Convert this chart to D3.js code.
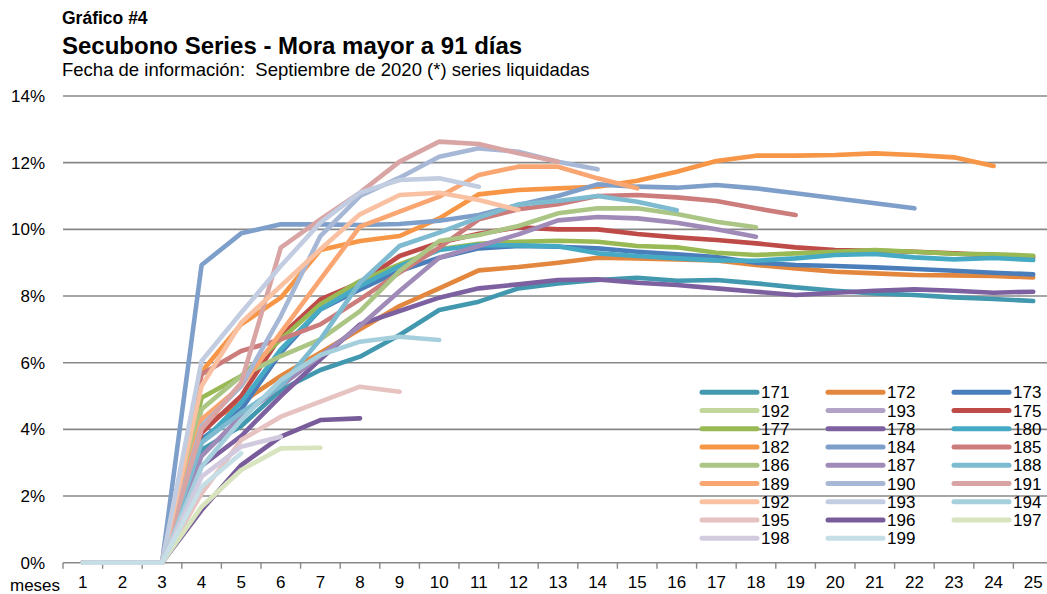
<!DOCTYPE html>
<html>
<head>
<meta charset="utf-8">
<script src="https://cdn.jsdelivr.net/npm/d3@7"></script>
<style>
  html, body { margin: 0; padding: 0; background: #fff; }
  svg { display: block; font-family: "Liberation Sans", Arial, sans-serif; }
</style>
</head>
<body>
<svg id="chart" width="1047" height="594"></svg>
<script>
// months on the x axis
const MONTHS = [1,2,3,4,5,6,7,8,9,10,11,12,13,14,15,16,17,18,19,20,21,22,23,24,25];
const Y_TICKS = [0, 0.02, 0.04, 0.06, 0.08, 0.10, 0.12, 0.14];

// legend labels, in the order the series are drawn (legend reads row by row)
const LABELS = ['171','172','173','192','193','175','177','178','180','182','184','185','186','187','188','189','190','191','192','193','194','195','196','197','198','199'];
const COLORS = ['#4198AF','#E3873E','#4A7EBB','#C3D69B','#B3A2C7','#BE4B48','#98B954','#7D60A0','#46AAC5','#F79646','#7F9FCB','#CB7C7B','#ABC684','#9F8AB8','#7FBBD0','#F9A672','#A6B8D6','#D8A5A4','#F9C1A2','#C3CDE2','#A6CFDD','#E6C2C1','#785C9A','#D7E4BD','#D2CADE','#C6DEE6'];

// mora > 91 días, % per month since issue
const s171 = [0,0,0,3.38,4.1,5.18,5.78,6.18,6.83,7.58,7.83,8.23,8.38,8.48,8.55,8.46,8.48,8.38,8.26,8.16,8.08,8.03,7.96,7.91,7.85];
const s172 = [0,0,0,4.1,4.8,5.6,6.3,7.0,7.7,8.23,8.77,8.87,9.0,9.15,9.13,9.1,9.07,8.93,8.83,8.73,8.68,8.63,8.62,8.6,8.56];
const s173 = [0,0,0,3.7,4.6,6.3,7.6,8.2,8.75,9.15,9.43,9.5,9.48,9.43,9.33,9.25,9.17,9.0,8.93,8.9,8.86,8.81,8.76,8.7,8.65];
const s192a = [];
const s193a = [];
const s175 = [0,0,0,3.9,5.0,6.8,7.9,8.4,9.2,9.6,9.87,10.06,10.0,10.0,9.86,9.76,9.68,9.58,9.46,9.38,9.36,9.33,9.28,9.22,9.16];
const s177 = [0,0,0,4.95,5.6,6.7,7.75,8.45,8.95,9.4,9.57,9.63,9.66,9.63,9.5,9.46,9.3,9.23,9.28,9.33,9.38,9.33,9.27,9.25,9.21];
const s178 = [0,0,0,2.9,3.8,5.0,6.1,7.15,7.55,7.95,8.23,8.35,8.48,8.5,8.4,8.33,8.23,8.13,8.03,8.1,8.16,8.2,8.16,8.1,8.13];
const s180 = [0,0,0,3.6,4.8,6.4,7.6,8.3,8.9,9.38,9.53,9.52,9.49,9.28,9.2,9.13,9.07,9.06,9.13,9.23,9.26,9.16,9.1,9.14,9.08];
const s182 = [0,0,0,5.73,7.15,7.95,9.38,9.65,9.8,10.33,11.05,11.18,11.23,11.28,11.46,11.73,12.05,12.21,12.21,12.23,12.28,12.23,12.16,11.9];
const s184 = [0,0,0,8.93,9.88,10.15,10.15,10.13,10.16,10.26,10.43,10.73,11.0,11.35,11.28,11.25,11.33,11.23,11.08,10.93,10.78,10.63];
const s185 = [0,0,0,5.65,6.35,6.7,7.15,7.9,8.7,9.45,10.3,10.6,10.75,11.0,11.03,10.96,10.85,10.63,10.43];
const s186 = [0,0,0,4.6,5.6,6.2,6.7,7.55,8.75,9.65,9.83,10.1,10.48,10.63,10.63,10.46,10.23,10.06];
const s187 = [0,0,0,3.2,4.4,5.3,6.2,7.1,8.15,9.15,9.5,9.85,10.27,10.37,10.33,10.2,10.0,9.78];
const s188 = [0,0,0,3.6,4.5,5.3,6.7,8.4,9.5,9.9,10.35,10.75,10.85,11.0,10.83,10.57];
const s189 = [0,0,0,4.3,5.3,6.9,8.5,10.08,10.53,10.98,11.63,11.88,11.88,11.53,11.23];
const s190 = [0,0,0,4.1,5.3,7.4,9.8,11.0,11.55,12.18,12.43,12.33,12.03,11.8];
const s191 = [0,0,0,4.0,5.4,9.45,10.3,11.1,12.03,12.63,12.56,12.28,12.03];
const s192 = [0,0,0,5.3,7.2,8.3,9.4,10.45,11.03,11.1,10.88,10.58];
const s193 = [0,0,0,6.05,7.5,8.9,10.2,11.1,11.48,11.53,11.28];
const s194 = [0,0,0,2.88,4.28,5.48,6.23,6.63,6.78,6.68];
const s195 = [0,0,0,2.08,3.68,4.38,4.83,5.28,5.13];
const s196 = [0,0,0,1.58,2.93,3.78,4.28,4.33];
const s197 = [0,0,0,1.68,2.78,3.43,3.45];
const s198 = [0,0,0,2.58,3.48,3.78];
const s199 = [0,0,0,2.28,3.28];

const VALUES = [s171,s172,s173,s192a,s193a,s175,s177,s178,s180,s182,s184,s185,s186,s187,s188,s189,s190,s191,s192,s193,s194,s195,s196,s197,s198,s199];

const series = LABELS.map((label, i) => ({
  label,
  color: COLORS[i],
  points: VALUES[i].map((v, j) => ({ m: MONTHS[j], v: v / 100 }))
}));

const svg = d3.select('#chart');
const FONT = 17;

// ---- scales ----
const x = d3.scaleBand().domain(MONTHS).range([63, 1053]).padding(0);
const y = d3.scaleLinear().domain([0, 0.14]).range([562.7, 96]);
const cx = m => x(m) + x.bandwidth() / 2;

// ---- titles ----
svg.append('text').attr('x', 62).attr('y', 24)
  .attr('font-size', 17.5).attr('font-weight', 'bold').text('Gráfico #4');
svg.append('text').attr('x', 62).attr('y', 54)
  .attr('font-size', 24).attr('font-weight', 'bold').text('Secubono Series - Mora mayor a 91 días');
svg.append('text').attr('x', 62).attr('y', 76)
  .attr('font-size', 18.5).text('Fecha de información:  Septiembre de 2020 (*) series liquidadas')
  .style('white-space', 'pre');

// ---- gridlines ----
svg.append('g')
  .selectAll('line')
  .data(Y_TICKS)
  .join('line')
  .attr('x1', x.range()[0]).attr('x2', x.range()[1])
  .attr('y1', d => y(d)).attr('y2', d => y(d))
  .attr('stroke', '#888')
  .attr('stroke-width', 1.6);

// ---- y axis labels ----
const yAxis = svg.append('g')
  .attr('transform', `translate(${x.range()[0]},0)`)
  .call(d3.axisLeft(y).tickValues(Y_TICKS).tickFormat(d3.format('.0%')).tickSize(0).tickPadding(18));
yAxis.select('.domain').remove();
yAxis.selectAll('text').attr('font-size', FONT).attr('fill', '#000').attr('font-family', null);

// ---- x axis: labels centred in bands, ticks on band edges ----
const xAxis = svg.append('g')
  .attr('transform', `translate(0,${y(0)})`)
  .call(d3.axisBottom(x).tickSize(0).tickPadding(13));
xAxis.select('.domain').remove();
xAxis.selectAll('text').attr('font-size', FONT).attr('fill', '#000').attr('font-family', null);

const edges = MONTHS.map(m => x(m)).concat([x.range()[1]]);
svg.append('g')
  .selectAll('line')
  .data(edges)
  .join('line')
  .attr('x1', d => d).attr('x2', d => d)
  .attr('y1', y(0)).attr('y2', y(0) + 6)
  .attr('stroke', '#888').attr('stroke-width', 1.4);

svg.append('text').attr('x', 10).attr('y', 591)
  .attr('font-size', FONT).text('meses');

// ---- lines ----
const line = d3.line().x(d => cx(d.m)).y(d => y(d.v));

svg.append('g')
  .selectAll('path')
  .data(series.filter(s => s.points.length))
  .join('path')
  .attr('d', d => line(d.points))
  .attr('fill', 'none')
  .attr('stroke', d => d.color)
  .attr('stroke-width', 4.6)
  .attr('stroke-linejoin', 'round')
  .attr('stroke-linecap', 'round');

// ---- legend (3 columns, filled row by row) ----
const legend = svg.append('g').attr('transform', 'translate(702,392.3)');
const item = legend.selectAll('g')
  .data(series)
  .join('g')
  .attr('transform', (d, i) => `translate(${(i % 3) * 126},${Math.floor(i / 3) * 18.25})`);

item.append('line')
  .attr('x1', 0).attr('x2', 55)
  .attr('stroke', d => d.color)
  .attr('stroke-width', 5)
  .attr('stroke-linecap', 'round');

item.append('text')
  .attr('x', 59).attr('y', 6)
  .attr('font-size', FONT)
  .text(d => d.label);
</script>
</body>
</html>
